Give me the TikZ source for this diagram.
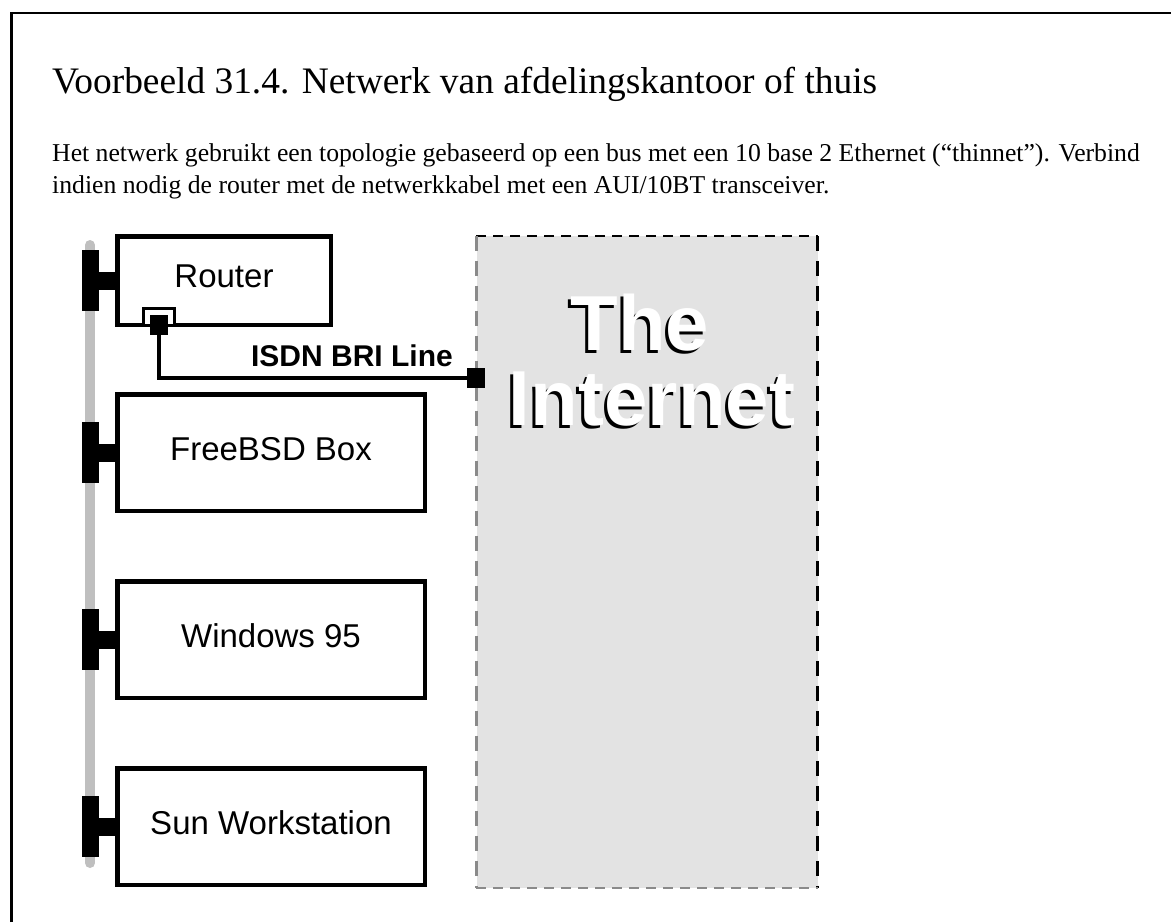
\documentclass[tikz,border=0pt]{standalone}
\usepackage{fontspec}
\setmainfont{Liberation Serif}
\newfontfamily\nwsans{Liberation Sans}
\usepackage{xcolor}
\definecolor{nwink}{HTML}{000000}
\definecolor{nwbus}{HTML}{BFBFBF}
\definecolor{nwcloud}{HTML}{E3E3E3}
\definecolor{nwfaint}{HTML}{8A8A8A}
\usetikzlibrary{positioning}
\tikzset{
  nwhost/.style  ={rectangle, draw=nwink, fill=white, line width=4.5pt, inner sep=0pt,
                   minimum width=307.5pt, minimum height=116.5pt, text depth=8pt,
                   font=\nwsans\fontsize{33}{36}\selectfont, text=nwink},
  nwframe/.style ={rectangle, draw=nwink, fill=white, line width=3pt, inner sep=0pt,
                   minimum width=31pt, minimum height=17pt},
  nwjack/.style  ={rectangle, fill=nwink, inner sep=0pt, minimum width=18pt, minimum height=20pt},
  nwcable/.style ={line width=4.5pt, draw=nwink},
  nwbusline/.style={line width=10pt, draw=nwbus, line cap=round},
  nwcloud/.style ={rectangle, fill=nwcloud, inner sep=0pt, minimum width=341pt, minimum height=652pt},
  nwdashh/.style ={line width=2.5pt, dash pattern=on 10pt off 7pt},
  nwdashv/.style ={line width=2.5pt, dash pattern=on 15pt off 10pt},
  nwlbl/.style   ={font=\nwsans\bfseries\fontsize{30}{34}\selectfont, text=nwink, inner sep=0pt},
  nwbig/.style   ={font=\nwsans\bfseries\fontsize{78}{80}\selectfont, inner sep=0pt, anchor=base},
}
\newcommand{\nwshadowed}[1]{%
  \leavevmode\rlap{\kern-3pt\raisebox{-3pt}{\textcolor{nwink}{#1}}}\textcolor{white}{#1}}

\begin{document}
\begin{tikzpicture}[x=1pt, y=-1pt]
  \useasboundingbox (0,0) rectangle (1171,922);
  \draw[line width=2.3pt, draw=nwink] (11.5,922) -- (11.5,13) -- (1171,13);
  \node[anchor=base west, inner sep=0pt, font=\fontsize{37.4}{44}\selectfont]
       (title) at (52,93) {Voorbeeld 31.4. Netwerk van afdelingskantoor of thuis};
  \node[anchor=base west, inner sep=0pt, align=left, font=\fontsize{25.7}{32}\selectfont]
       (intro) at (52,193) {Het netwerk gebruikt een topologie gebaseerd op een bus met een 10 base 2 Ethernet (``thinnet''). Verbind\\
       indien nodig de router met de netwerkkabel met een AUI/10BT transceiver.};
  \node[nwcloud] (inet) at (647,562) {};
  \draw[nwdashh, draw=nwink] (inet.north west) -- (inet.north east);
  \draw[nwdashv, draw=nwink] (inet.north east) -- (inet.south east);
  \draw[nwdashv, draw=nwfaint] (inet.north west) -- (inet.south west);
  \draw[nwdashh, draw=nwfaint] (inet.south west) -- (inet.south east);
  \node[nwbig] (the) at (640,350) {\nwshadowed{The}};
  \node[nwbig] (internet) at (652,425) {\nwshadowed{Internet}};
  \node[nwhost, minimum width=213.5pt, minimum height=88.5pt] (router) at (224,280.5) {Router};
  \node[nwhost, below=65pt of router.south west, anchor=north west] (freebsd) {FreeBSD Box};
  \node[nwhost, below=66pt of freebsd] (win95) {Windows 95};
  \node[nwhost, below=66pt of win95] (sun) {Sun Workstation};
  \draw[nwbusline] ([xshift=-25pt,yshift=35.5pt]router.west) -- ([xshift=-25pt,yshift=-36.5pt]sun.west);
  \foreach \h in {router,freebsd,win95,sun}{
    \fill[nwink] ([xshift=-33pt,yshift=-30.5pt]\h.west) rectangle ([xshift=-16pt,yshift=30.5pt]\h.west);
    \fill[nwink] ([xshift=-16.5pt,yshift=-9pt]\h.west) rectangle ([xshift=2pt,yshift=9pt]\h.west);
  }
  \node[nwframe] (portframe) at (159,317) {};
  \node[nwjack] (port) at (159,325) {};
  \node[nwjack] (inetjack) at (476,378) {};
  \draw[nwcable] (port) |- (inetjack);
  \node[nwlbl, anchor=base east] (isdnlbl) at (453,366) {ISDN BRI Line};
\end{tikzpicture}
\end{document}
